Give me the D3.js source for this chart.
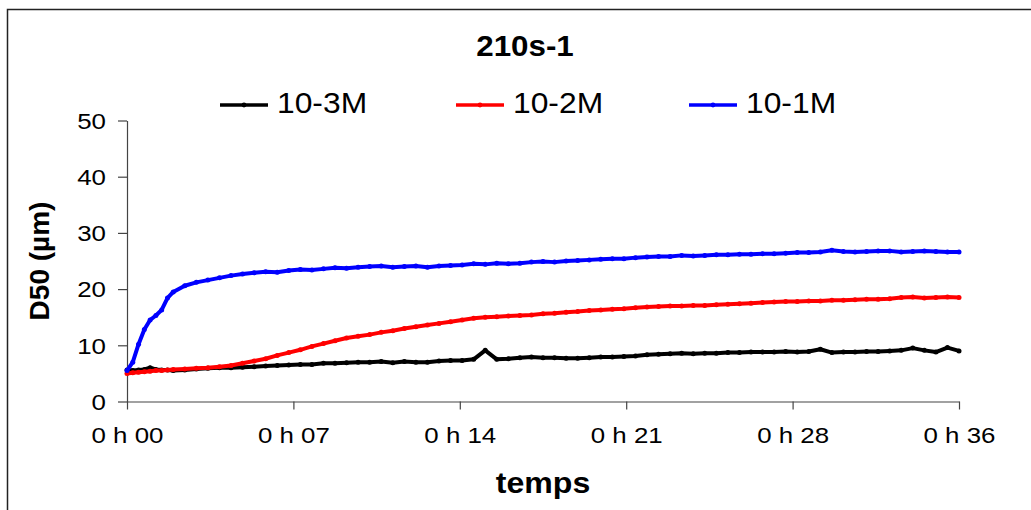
<!DOCTYPE html>
<html><head><meta charset="utf-8">
<script src="https://cdn.jsdelivr.net/npm/d3@7"></script>
<style>
html,body{margin:0;padding:0;background:#fff;}
svg{display:block;}
text{font-family:"Liberation Sans",Arial,sans-serif;fill:#000;}
</style></head>
<body>
<svg id="chart" width="1031" height="510"></svg>
<script>
// time in minutes
const times = [0,0.25,0.5,0.75,1,1.25,1.5,1.75,2,2.5,3,3.5,4,4.5,5,5.5,6,6.5,7,7.5,8,8.5,9,9.5,10,10.5,11,11.5,12,12.5,13,13.5,14,14.5,15,15.5,16,16.5,17,17.5,18,18.5,19,19.5,20,20.5,21,21.5,22,22.5,23,23.5,24,24.5,25,25.5,26,26.5,27,27.5,28,28.5,29,29.5,30,30.5,31,31.5,32,32.5,33,33.5,34,34.5,35,35.5,36];
const seriesNames = ["10-3M","10-2M","10-1M"];
const seriesColors = ["#000000","#ff0000","#0000ff"];
const m3 = [5.6,5.5,5.6,5.7,6.0,5.7,5.6,5.6,5.5,5.6,5.8,5.9,6.0,6.0,6.1,6.2,6.3,6.4,6.5,6.6,6.6,6.8,6.8,6.9,7.0,7.0,7.1,6.9,7.1,7.0,7.0,7.2,7.3,7.3,7.5,9.1,7.5,7.6,7.8,7.9,7.8,7.8,7.7,7.7,7.8,7.9,7.9,8.0,8.1,8.3,8.4,8.5,8.6,8.5,8.6,8.6,8.7,8.7,8.8,8.8,8.8,8.9,8.8,8.9,9.3,8.7,8.8,8.8,8.9,8.9,9.0,9.1,9.5,9.1,8.8,9.6,9.0];
const m2 = [5.0,5.1,5.2,5.3,5.4,5.5,5.5,5.6,5.7,5.8,5.9,6.0,6.2,6.4,6.8,7.2,7.6,8.2,8.7,9.2,9.8,10.3,10.8,11.3,11.6,11.9,12.3,12.6,13.0,13.3,13.6,13.9,14.2,14.5,14.8,15.0,15.1,15.2,15.3,15.4,15.6,15.7,15.9,16.0,16.2,16.3,16.4,16.5,16.7,16.8,16.9,17.0,17.0,17.1,17.1,17.2,17.3,17.4,17.5,17.6,17.7,17.8,17.8,17.9,17.9,18.0,18.0,18.1,18.2,18.2,18.3,18.5,18.6,18.4,18.5,18.6,18.5];
const m1 = [5.5,7.0,10.2,12.8,14.5,15.3,16.3,18.4,19.5,20.6,21.2,21.6,22.0,22.4,22.7,22.9,23.1,23.0,23.3,23.5,23.4,23.6,23.8,23.7,23.9,24.0,24.1,23.9,24.0,24.1,23.9,24.1,24.2,24.3,24.5,24.4,24.6,24.5,24.6,24.8,24.9,24.8,25.0,25.1,25.2,25.3,25.4,25.4,25.6,25.7,25.8,25.8,26.0,25.9,26.0,26.1,26.1,26.2,26.2,26.3,26.3,26.4,26.5,26.5,26.6,26.9,26.7,26.6,26.7,26.8,26.8,26.6,26.7,26.8,26.7,26.6,26.6];
const seriesValues = [m3, m2, m1];
const xTickValues = [0,7.2,14.4,21.6,28.8,36];
const xTickLabels = ["0 h 00","0 h 07","0 h 14","0 h 21","0 h 28","0 h 36"];
const yTickValues = [0,10,20,30,40,50];
const chartTitle = "210s-1";
const xTitle = "temps";
const yTitle = "D50 (µm)";

const svg = d3.select("#chart");
// outer frame
svg.append("rect").attr("x",7.5).attr("y",9.5).attr("width",1040).attr("height",520)
  .attr("fill","none").attr("stroke","#222").attr("stroke-width",1.5);

const x = d3.scaleLinear().domain([0,36]).range([127,959]);
const y = d3.scaleLinear().domain([0,50]).range([401.5,120.5]);

// axes
const gx = svg.append("g").attr("transform","translate(0,401.5)")
  .call(d3.axisBottom(x).tickValues(xTickValues).tickFormat((d,i)=>xTickLabels[i]).tickSize(8).tickSizeOuter(0));
const gy = svg.append("g").attr("transform","translate(127,0)")
  .call(d3.axisLeft(y).tickValues(yTickValues).tickSize(9).tickSizeOuter(0));
[gx,gy].forEach(g=>{
  g.select(".domain").attr("stroke","#444").attr("stroke-width",1.2);
  g.selectAll(".tick line").attr("stroke","#444").attr("stroke-width",1.2);
  g.selectAll(".tick text").attr("font-family",'"Liberation Sans",Arial,sans-serif').attr("font-size",22.5).attr("fill","#000");
});
gx.selectAll(".tick text").attr("dy",null).attr("y",0).attr("transform","translate(0,41.5) scale(1.15,1)");
gy.selectAll(".tick text").attr("dy",null).attr("x",0).attr("transform","translate(-21,7.8) scale(1.15,1)");

// series
const line = d3.line().x((d,i)=>x(times[i])).y(d=>y(d));
seriesValues.forEach((vals,k)=>{
  const g = svg.append("g");
  g.append("path").datum(vals).attr("d",line).attr("fill","none")
    .attr("stroke",seriesColors[k]).attr("stroke-width",4).attr("stroke-linejoin","round");
  g.selectAll("circle").data(vals).join("circle")
    .attr("cx",(d,i)=>x(times[i])).attr("cy",d=>y(d)).attr("r",2.5).attr("fill",seriesColors[k]);
});

// title
svg.append("text").attr("transform","translate(525,56) scale(1.08,1)").attr("text-anchor","middle")
  .attr("font-size",29).attr("font-weight","bold").text(chartTitle);
// x title
svg.append("text").attr("transform","translate(543,493) scale(1.07,1)").attr("text-anchor","middle")
  .attr("font-size",30).attr("font-weight","bold").text(xTitle);
// y title
svg.append("text").attr("transform","translate(49,261) rotate(-90)").attr("text-anchor","middle")
  .attr("font-size",28).attr("font-weight","bold").text(yTitle);

// legend
const legX = [220,456,689];
seriesNames.forEach((n,k)=>{
  const g = svg.append("g").attr("transform",`translate(${legX[k]},105)`);
  g.append("line").attr("x1",0).attr("x2",48).attr("y1",0).attr("y2",0)
    .attr("stroke",seriesColors[k]).attr("stroke-width",3.5);
  g.append("circle").attr("cx",24).attr("cy",0).attr("r",2.4).attr("fill",seriesColors[k]);
  g.append("text").attr("transform","translate(57,8) scale(1.06,1)").attr("font-size",30).text(n);
});
</script>
</body></html>
